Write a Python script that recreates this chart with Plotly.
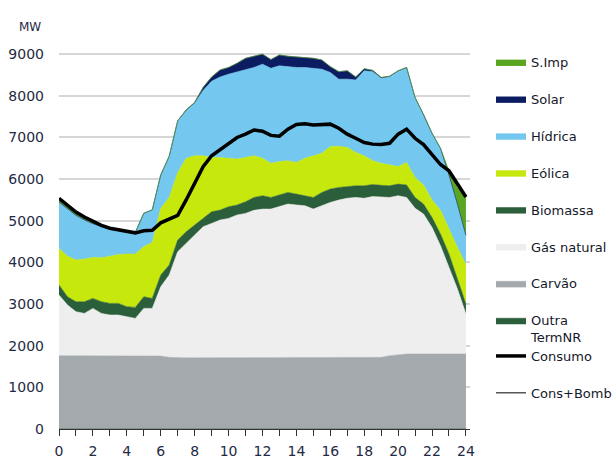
import plotly.graph_objects as go

hours = [0, 0.5, 1, 1.5, 2, 2.5, 3, 3.5, 4, 4.5, 5, 5.5, 6, 6.5, 7, 7.5, 8, 8.5, 9, 9.5,
         10, 10.5, 11, 11.5, 12, 12.5, 13, 13.5, 14, 14.5, 15, 15.5, 16, 16.5, 17, 17.5,
         18, 18.5, 19, 19.5, 20, 20.5, 21, 21.5, 22, 22.5, 23, 23.5, 24]

outra_termnr = [0] * 49

carvao = [1760, 1760, 1760, 1760, 1760, 1760, 1760, 1760, 1760, 1760, 1760, 1760, 1750, 1720,
          1710, 1710, 1710, 1710, 1710, 1710, 1710, 1710, 1710, 1710, 1710, 1710, 1710, 1710,
          1710, 1710, 1710, 1710, 1710, 1710, 1710, 1710, 1710, 1710, 1720, 1760, 1780, 1800,
          1800, 1800, 1800, 1800, 1800, 1800, 1800]

gas_natural = [1456, 1216, 1056, 1016, 1136, 1016, 976, 976, 936, 896, 1136, 1136, 1666, 1976,
               2546, 2746, 2946, 3146, 3226, 3306, 3346, 3426, 3466, 3540, 3570, 3570, 3630, 3690,
               3670, 3650, 3570, 3650, 3730, 3786, 3830, 3850, 3830, 3870, 3850, 3800, 3820, 3760,
               3500, 3360, 3040, 2600, 2080, 1560, 960]

biomassa = [240, 200, 240, 280, 240, 280, 280, 280, 240, 264, 280, 240, 280, 240,
            280, 280, 240, 200, 280, 240, 280, 240, 280, 310, 320, 280, 280, 280,
            260, 240, 280, 320, 320, 304, 280, 280, 300, 290, 280, 280, 280, 300,
            260, 240, 240, 280, 320, 240, 240]

eolica = [880, 974, 1004, 1024, 984, 1054, 1134, 1174, 1264, 1280, 1204, 1344, 1604, 1624,
          1614, 1764, 1664, 1504, 1304, 1264, 1164, 1104, 1064, 1000, 900, 820, 800, 760,
          760, 900, 1000, 940, 1020, 990, 940, 800, 720, 570, 530, 500, 420, 540,
          480, 460, 420, 570, 600, 760, 950]

hidrica = [1114, 1130, 1070, 940, 810, 750, 650, 580, 540, 520, 800, 780, 800, 990,
           1250, 1150, 1260, 1570, 1830, 1930, 2020, 2090, 2100, 2120, 2260, 2280, 2300, 2260,
           2280, 2180, 2100, 2020, 1780, 1610, 1640, 1740, 2040, 2140, 2040, 2120, 2300, 2280,
           1920, 1690, 1600, 1490, 1300, 1040, 700]

solar = [0, 0, 0, 0, 0, 0, 0, 0, 0, 0, 0, 0, 0, 0,
         0, 10, 20, 70, 100, 170, 160, 210, 280, 270, 240, 210, 260, 250,
         250, 240, 240, 220, 140, 180, 200, 70, 50, 30, 20, 10, 0, 0,
         0, 0, 0, 0, 0, 0, 0]

s_imp = [70, 60, 60, 50, 40, 20, 10, 5, 0, 0, 0, 0, 0, 0,
         0, 0, 0, 0, 0, 0, 0, 0, 0, 0, 0, 0, 0, 0,
         0, 0, 0, 0, 0, 0, 0, 0, 0, 0, 0, 0, 0, 0,
         0, 0, 0, 0, 100, 400, 910]

consumo = [5540, 5370, 5210, 5090, 4990, 4890, 4820, 4780, 4740, 4710, 4760, 4770, 4950, 5040,
           5130, 5500, 5880, 6300, 6560, 6700, 6860, 7000, 7080, 7180, 7150, 7050, 7030, 7200,
           7310, 7330, 7300, 7300, 7320, 7220, 7080, 6980, 6880, 6840, 6830, 6860, 7080, 7200,
           6980, 6830, 6580, 6350, 6200, 5900, 5570]

cons_bomb = [5540, 5370, 5210, 5090, 4990, 4890, 4820, 4780, 4740, 4710, 4760, 4770, 4950, 5040,
             5130, 5500, 5880, 6300, 6560, 6700, 6860, 7000, 7080, 7180, 7150, 7050, 7030, 7200,
             7310, 7330, 7300, 7300, 7320, 7220, 7080, 6980, 6880, 6840, 6830, 6860, 7080, 7200,
             6980, 6830, 6580, 6350, 6200, 5900, 5570]

x_ticks = [0, 2, 4, 6, 8, 10, 12, 14, 16, 18, 20, 22, 24]
y_ticks = [0, 1000, 2000, 3000, 4000, 5000, 6000, 7000, 8000, 9000]

# stacking order bottom -> top, with legend rank
stack = [
    ("Outra<br>TermNR", outra_termnr, "#2B5E3A", 8),
    ("Carvão", carvao, "#A3A9AC", 7),
    ("Gás natural", gas_natural, "#EEEEEE", 6),
    ("Biomassa", biomassa, "#2B5E3A", 5),
    ("Eólica", eolica, "#C6E80C", 4),
    ("Hídrica", hidrica, "#74C7EF", 3),
    ("Solar", solar, "#0B1C63", 2),
    ("S.Imp", s_imp, "#5BA620", 1),
]

fig = go.Figure()
for name, vals, col, rank in stack:
    fig.add_trace(go.Scatter(
        x=hours, y=vals, name=name, mode="lines", stackgroup="gen",
        line=dict(color=col, width=0.6), fillcolor=col,
        legendrank=rank, legendgroup=name, legend="legend",
        hoverinfo="skip",
    ))

fig.add_trace(go.Scatter(
    x=hours, y=cons_bomb, name="Cons+Bomb", mode="lines",
    line=dict(color="#000000", width=1), legend="legend2",
    legendrank=2, legendgroup="cb", hoverinfo="skip",
))
fig.add_trace(go.Scatter(
    x=hours, y=consumo, name="Consumo", mode="lines",
    line=dict(color="#000000", width=3.5), legend="legend2",
    legendrank=1, legendgroup="c", hoverinfo="skip",
))

txt = "#1F2A44"
L, R, T, B = 59, 146, 50, 29
W, H = 616, 458
pw, ph = W - L - R, H - T - B


def px_x(p):
    return (p - L) / pw


def px_y(p):
    return (H - B - p) / ph


fig.update_layout(
    width=W, height=H,
    margin=dict(l=L, r=R, t=T, b=B, pad=0, autoexpand=False),
    paper_bgcolor="white", plot_bgcolor="white",
    font=dict(family="DejaVu Sans", color=txt),
    showlegend=True,
    legend=dict(
        x=px_x(491), y=px_y(47), xanchor="left", yanchor="top",
        traceorder="grouped", tracegroupgap=17, maxheight=400,
        font=dict(size=13, color="#15192A"), bgcolor="rgba(0,0,0,0)",
        itemwidth=30, valign="top",
    ),
    legend2=dict(
        x=px_x(491), y=px_y(341), xanchor="left", yanchor="top",
        traceorder="grouped", tracegroupgap=17, maxheight=200,
        font=dict(size=13, color="#15192A"), bgcolor="rgba(0,0,0,0)",
        itemwidth=30,
    ),
    xaxis=dict(
        range=[0, 24.24], tickvals=x_ticks, ticktext=[str(v) for v in x_ticks],
        showgrid=False, zeroline=False, showline=True, linecolor="#333333", linewidth=1,
        ticks="outside", ticklen=6, tickcolor="#333333", tickwidth=1,
        minor=dict(dtick=1, tick0=0, ticks="outside", ticklen=6, tickcolor="#333333", tickwidth=1),
        tickfont=dict(size=14, color=txt), ticklabelstandoff=3,
        automargin=False, fixedrange=True,
    ),
    yaxis=dict(
        range=[0, 9100], tickvals=y_ticks, ticktext=[str(v) for v in y_ticks],
        showgrid=True, gridcolor="#D6D6D6", gridwidth=1.5,
        zeroline=False, showline=False, ticks="",
        tickfont=dict(size=14, color=txt), ticklabelstandoff=14,
        automargin=False, fixedrange=True,
    ),
    annotations=[dict(
        text="MW", xref="paper", yref="paper", x=px_x(30), y=px_y(27),
        xanchor="center", yanchor="middle", showarrow=False,
        font=dict(size=12, color=txt),
    )],
)

fig.write_html("out.html", config={"displayModeBar": False},
               post_script="document.body.style.margin='0px';")
